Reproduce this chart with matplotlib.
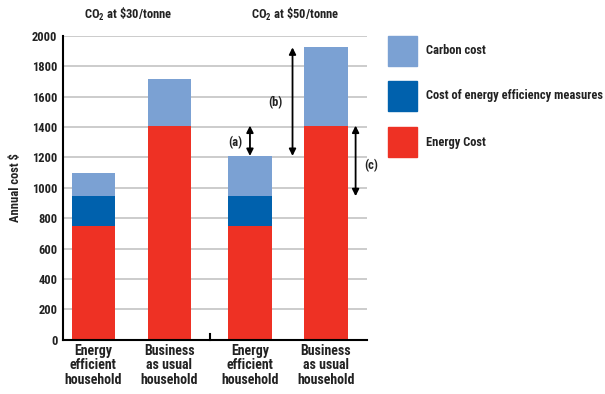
import matplotlib
matplotlib.use("Agg")
import matplotlib.pyplot as plt
from matplotlib import font_manager
from matplotlib.patches import Rectangle

# Household costs under two carbon prices
categories = ["Energy\nefficient\nhousehold", "Business\nas usual\nhousehold",
              "Energy\nefficient\nhousehold", "Business\nas usual\nhousehold"]
energy_cost = [750, 1410, 750, 1410]
efficiency_cost = [195, 0, 195, 0]
carbon_cost = [155, 310, 265, 515]
group_titles = ["CO$_2$ at \\$30/tonne", "CO$_2$ at \\$50/tonne"]
series_names = ["Carbon cost", "Cost of energy efficiency measures", "Energy Cost"]
yticks = list(range(0, 2001, 200))

c_carbon = "#7ba1d3"
c_eff = "#0061ad"
c_energy = "#ee3124"
txt = "#222222"

# narrow faces first, if any is installed
faces = [(f.name, f.stretch) for f in font_manager.fontManager.ttflist]
font = "Liberation Sans"
stretch = "normal"
for cand in ["Roboto Condensed", "Open Sans Condensed", "Liberation Sans Narrow"]:
    if any(n == cand for n, _ in faces):
        font = cand
        break
else:
    if ("DejaVu Sans", "condensed") in faces or ("DejaVu Sans", 75) in faces:
        font = "DejaVu Sans"
        stretch = "condensed"
plt.rcParams["font.family"] = [font, "DejaVu Sans"]
plt.rcParams["font.stretch"] = stretch
plt.rcParams["font.weight"] = "bold"
plt.rcParams["axes.labelweight"] = "bold"
plt.rcParams["mathtext.fontset"] = "custom"
plt.rcParams["mathtext.rm"] = font + ":bold"
plt.rcParams["mathtext.default"] = "rm"

fig = plt.figure(figsize=(6.05, 3.94), dpi=100)
ax = fig.add_axes([63 / 605, 1 - 339.7 / 394, 304 / 605, 303.7 / 394])

x = [0, 1, 2.06, 3.06]
w = 0.57
base2 = [e + f for e, f in zip(energy_cost, efficiency_cost)]
ax.bar(x, energy_cost, w, color=c_energy, zorder=2)
ax.bar(x, efficiency_cost, w, bottom=energy_cost, color=c_eff, zorder=2)
ax.bar(x, carbon_cost, w, bottom=base2, color=c_carbon, zorder=2)
totals = [b + c for b, c in zip(base2, carbon_cost)]

ax.set_xlim(-0.40, 3.60)
ax.set_ylim(0, 2000)
ax.set_yticks(yticks)
ax.set_yticklabels([str(v) for v in yticks], fontsize=9, color=txt)
ax.yaxis.grid(True, color="#cccccc", linewidth=1.4, zorder=0)
ax.set_axisbelow(True)
for s in ["top", "right"]:
    ax.spines[s].set_visible(False)
ax.spines["left"].set_linewidth(1.5)
ax.spines["bottom"].set_linewidth(1.5)
ax.tick_params(axis="y", length=0, pad=4)
ax.set_xticks(x)
ax.set_xticklabels(categories, fontsize=10, color=txt, linespacing=1.05)
ax.tick_params(axis="x", length=0, pad=3)
# separator between the two groups
ax.plot([1.53, 1.53], [0, 40], color="black", lw=1.5, clip_on=False)

ax.set_ylabel("Annual cost $", fontsize=9, color=txt)
ax.yaxis.set_label_coords(-41 / 304, 0.5)

# group headings
ax.text((x[0] + x[1]) / 2 - 0.05, 2140, group_titles[0], ha="center", va="center",
        fontsize=9, color=txt, clip_on=False)
ax.text((x[2] + x[3]) / 2 + 0.1, 2140, group_titles[1], ha="center", va="center",
        fontsize=9, color=txt, clip_on=False)

# double-headed arrows
arw = dict(arrowstyle="<|-|>", color="black", lw=1.3, mutation_scale=10,
           shrinkA=0, shrinkB=0)
ax.annotate("", xy=(x[2], energy_cost[3]), xytext=(x[2], totals[2]), arrowprops=arw)
ax.text(x[2] - 0.1, 1300, "(a)", ha="right", va="center", fontsize=9, color=txt)
ax.annotate("", xy=(2.62, totals[3]), xytext=(2.62, totals[2]), arrowprops=arw)
ax.text(2.49, 1560, "(b)", ha="right", va="center", fontsize=9, color=txt)
ax.annotate("", xy=(3.45, energy_cost[3]), xytext=(3.45, base2[2]), arrowprops=arw,
            annotation_clip=False)
ax.text(3.56, 1150, "(c)", ha="left", va="center", fontsize=9, color=txt)

# legend boxes
leg_colors = [c_carbon, c_eff, c_energy]
leg_y = [36, 81, 127]
for name, col, ty in zip(series_names, leg_colors, leg_y):
    fig.patches.append(Rectangle((388 / 605, 1 - (ty + 30) / 394), 29 / 605, 30 / 394,
                                 transform=fig.transFigure, color=col))
    fig.text(426 / 605, 1 - (ty + 15) / 394, name, ha="left", va="center",
             fontsize=9, color=txt)

fig.savefig("out.png", dpi=100)
